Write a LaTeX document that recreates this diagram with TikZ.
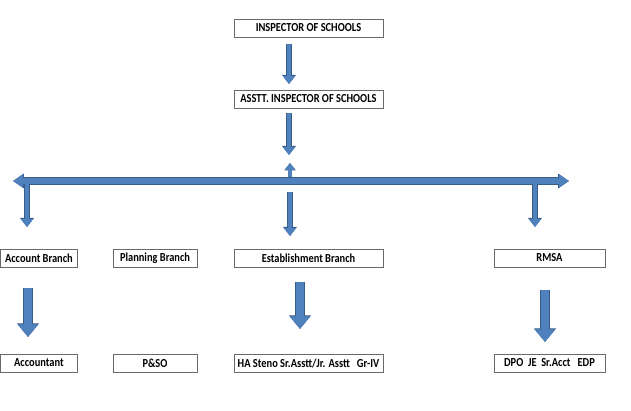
\documentclass[tikz,border=0pt]{standalone}
\usepackage{fontspec}
\setmainfont{Carlito}
\newfontfamily\boxfont[FakeStretch=0.85]{Carlito}
\usetikzlibrary{arrows.meta, positioning, calc}
\definecolor{arrowFill}{RGB}{79,129,189}
\definecolor{arrowEdge}{RGB}{56,93,138}
\definecolor{boxLine}{RGB}{105,105,105}

\begin{document}
\begin{tikzpicture}[x=0.75pt, y=-0.75pt,
	post/.style={draw=boxLine, line width=0.6pt, fill=white, minimum height=13.5pt, inner sep=0.5pt, font=\boxfont\fontsize{9.2}{10}\selectfont\bfseries},
	widepost/.style={post, minimum width=111.75pt},
	flow/.style={draw=arrowFill, line width=3.6pt, -{Triangle[width=9pt,length=6pt]},
		preaction={draw=arrowEdge, line width=4.4pt, -{Triangle[width=10pt,length=6.8pt]}}},
	bigflow/.style={draw=arrowFill, line width=6.4pt, -{Triangle[width=15pt,length=9.5pt]},
		preaction={draw=arrowEdge, line width=7.2pt, -{Triangle[width=16pt,length=10.3pt]}}}]
	\useasboundingbox (0,0) rectangle (631,410);
	% Top of the office
	\node[widepost] (insp) at (308.5,28) {INSPECTOR OF SCHOOLS};
	\node[widepost] (asst) at (308.5,99) {ASSTT. INSPECTOR OF SCHOOLS};
	% Branches
	\node[post, minimum width=57.75pt] (acct) at (38.9,258) {Account Branch};
	\node[post, minimum width=63pt] (plan) at (155,258) {Planning Branch};
	\node[widepost] (estb) at (308.5,258) {Establishment Branch};
	\node[post, minimum width=83.25pt] (rmsa) at (549.5,258) {RMSA};
	% Staff
	\node[post, minimum width=57.75pt] (acctt) at (38.9,363) {Accountant};
	\node[post, minimum width=63pt] (pso) at (155,363) {P\&SO};
	\node[widepost] (steno) at (308.5,363) {HA Steno Sr.Asstt/Jr. Asstt\ \ \ Gr-IV};
	\node[post, minimum width=83.25pt] (dpo) at (549.5,363) {DPO\ \ JE\ \ Sr.Acct\ \ \ EDP};
	% Arrow ends
	\coordinate (a1s) at (289,44);   \coordinate (a1e) at (289,84);
	\coordinate (a2s) at (289,113);  \coordinate (a2e) at (289,155);
	\coordinate (hl) at (13,181);    \coordinate (hr) at (569,181);
	\coordinate (ups) at (290,179);  \coordinate (upe) at (290,163);
	\coordinate (d1s) at (27,184);   \coordinate (d1e) at (27,227);
	\coordinate (d2s) at (290,192);  \coordinate (d2e) at (290,236);
	\coordinate (d3s) at (535,184);  \coordinate (d3e) at (535,227);
	\coordinate (b1s) at (28,288);   \coordinate (b1e) at (28,337);
	\coordinate (b2s) at (300,282);  \coordinate (b2e) at (300,329);
	\coordinate (b3s) at (545,290);  \coordinate (b3e) at (545,342);
	% Arrows
	\draw[flow] (a1s) -- (a1e);
	\draw[flow] (a2s) -- (a2e);
	\draw[draw=arrowFill, line width=2.8pt, -{Triangle[width=7.5pt,length=5pt]},
		preaction={draw=arrowEdge, line width=3.6pt, -{Triangle[width=8.3pt,length=5.6pt]}}] (ups) -- (upe);
	\draw[draw=arrowFill, line width=4.6pt, {Triangle[width=9.75pt,length=7.5pt]}-{Triangle[width=9.75pt,length=7.5pt]},
		preaction={draw=arrowEdge, line width=5.4pt, {Triangle[width=10.6pt,length=8.2pt]}-{Triangle[width=10.6pt,length=8.2pt]}}] (hl) -- (hr);
	\draw[flow] (d1s) -- (d1e);
	\draw[flow] (d2s) -- (d2e);
	\draw[flow] (d3s) -- (d3e);
	\draw[bigflow] (b1s) -- (b1e);
	\draw[bigflow] (b2s) -- (b2e);
	\draw[bigflow] (b3s) -- (b3e);
\end{tikzpicture}
\end{document}
